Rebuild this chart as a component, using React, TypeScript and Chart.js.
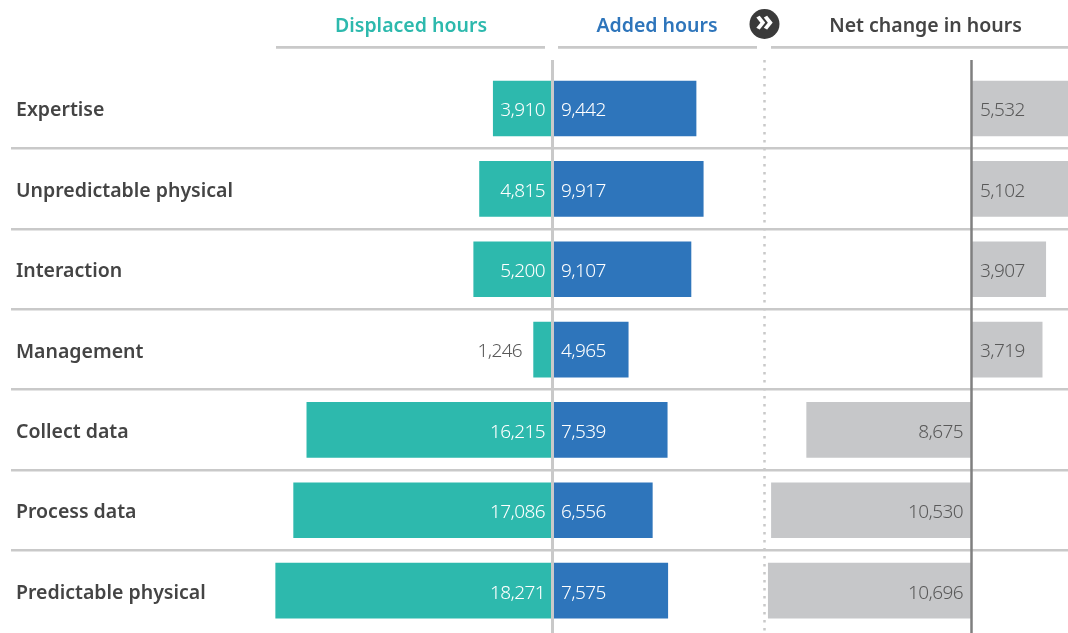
import React, { useEffect, useRef } from "react";
import { Chart, registerables } from "chart.js";

Chart.register(...registerables);

const categories = [
  "Expertise",
  "Unpredictable physical",
  "Interaction",
  "Management",
  "Collect data",
  "Process data",
  "Predictable physical",
];
const displacedHours = [3910, 4815, 5200, 1246, 16215, 17086, 18271];
const addedHours = [9442, 9917, 9107, 4965, 7539, 6556, 7575];
const netChange = [5532, 5102, 3907, 3719, -8675, -10530, -10696];
const headers = ["Displaced hours", "Added hours", "Net change in hours"];

const TEAL = "#2db9ad";
const BLUE = "#2e75bb";
const GREY = "#c6c7c9";
const RULE = "#c9c9c9";
const DARK = "#444444";
const FONT = '"Noto Sans", sans-serif';

const fmt = (v: number) => Math.abs(v).toLocaleString("en-US");

const overlay = {
  id: "overlay",
  afterDatasetsDraw(chart: any) {
    const { ctx, scales } = chart;
    const top = 60;
    const bottom = 633;
    ctx.save();
    const vline = (x: number, color: string, w: number, dash: number[] = []) => {
      ctx.beginPath();
      ctx.setLineDash(dash);
      ctx.strokeStyle = color;
      ctx.lineWidth = w;
      ctx.moveTo(x, top);
      ctx.lineTo(x, bottom);
      ctx.stroke();
      ctx.setLineDash([]);
    };
    vline(scales.xDisp.getPixelForValue(0), RULE, 3);
    vline(764.5, RULE, 2.5, [2.5, 5.5]);
    vline(scales.xNet.getPixelForValue(0), "#7f7f7f", 2.5);

    const hline = (a: number, b: number) => {
      ctx.beginPath();
      ctx.strokeStyle = RULE;
      ctx.lineWidth = 2.6;
      ctx.moveTo(a, 47.4);
      ctx.lineTo(b, 47.4);
      ctx.stroke();
    };
    hline(276, 545);
    hline(558, 757);
    hline(771, 1068);

    ctx.textBaseline = "middle";
    ctx.textAlign = "center";
    ctx.font = `600 19.5px ${FONT}`;
    ctx.fillStyle = TEAL;
    ctx.fillText(headers[0], 411, 26);
    ctx.fillStyle = BLUE;
    ctx.fillText(headers[1], 657, 26);
    ctx.fillStyle = DARK;
    ctx.fillText(headers[2], 925.5, 26);

    ctx.beginPath();
    ctx.fillStyle = "#3a3a3a";
    ctx.arc(764.5, 24, 15, 0, Math.PI * 2);
    ctx.fill();
    ctx.fillStyle = "#ffffff";
    ctx.font = `700 30px ${FONT}`;
    ctx.fillText("\u00bb", 764.5, 22);

    ctx.font = `300 19px ${FONT}`;
    ctx.letterSpacing = "-0.6px";
    const metaD = chart.getDatasetMeta(0).data;
    const metaA = chart.getDatasetMeta(1).data;
    const metaN = chart.getDatasetMeta(2).data;
    categories.forEach((_, i) => {
      const d = metaD[i];
      const y = d.y + 2.5;
      if (d.base - d.x > 50) {
        ctx.textAlign = "right";
        ctx.fillStyle = "#ffffff";
        ctx.fillText(fmt(displacedHours[i]), d.base - 7.5, y);
      } else {
        ctx.textAlign = "right";
        ctx.fillStyle = "#595959";
        ctx.fillText(fmt(displacedHours[i]), d.x - 11.5, y);
      }
      ctx.textAlign = "left";
      ctx.fillStyle = "#ffffff";
      ctx.fillText(fmt(addedHours[i]), metaA[i].base + 8, y);
      const n = metaN[i];
      ctx.fillStyle = "#595959";
      if (netChange[i] >= 0) {
        ctx.textAlign = "left";
        ctx.fillText(fmt(netChange[i]), n.base + 8.5, y);
      } else {
        ctx.textAlign = "right";
        ctx.fillText(fmt(netChange[i]), n.base - 8.5, y);
      }
    });
    ctx.restore();
  },
};

export default function App() {
  const ref = useRef<HTMLCanvasElement>(null);
  useEffect(() => {
    const kBars = 0.01515;
    const kNet = 0.019;
    const left = 11;
    const right = 1068;
    const range = (zero: number, k: number) => ({
      min: (left - zero) / k,
      max: (right - zero) / k,
    });
    const disp = { min: (552.5 - right) / kBars, max: (552.5 - left) / kBars };
    const chart = new Chart(ref.current as HTMLCanvasElement, {
      type: "bar",
      data: {
        labels: categories,
        datasets: [
          { label: headers[0], data: displacedHours, backgroundColor: TEAL, xAxisID: "xDisp" },
          { label: headers[1], data: addedHours, backgroundColor: BLUE, xAxisID: "xAdd" },
          { label: headers[2], data: netChange, backgroundColor: GREY, xAxisID: "xNet" },
        ],
      },
      options: {
        indexAxis: "y",
        responsive: false,
        animation: false,
        layout: { autoPadding: false, padding: { left, right: 0, top: 68.33, bottom: 2.17 } },
        plugins: { legend: { display: false }, tooltip: { enabled: false } },
        datasets: { bar: { grouped: false, barThickness: 55, borderWidth: 0 } },
        scales: {
          xDisp: { type: "linear", axis: "x", display: false, reverse: true, ...disp },
          xAdd: { type: "linear", axis: "x", display: false, ...range(553, kBars) },
          xNet: { type: "linear", axis: "x", display: false, ...range(971.5, kNet) },
          y: {
            type: "category",
            offset: true,
            afterFit: (s: any) => {
              s.width = 0;
              s.paddingTop = 0;
              s.paddingBottom = 0;
            },
            border: { display: false },
            grid: {
              offset: true,
              drawTicks: false,
              lineWidth: 2.6,
              color: (c: any) => (c.index === undefined || c.index === 0 ? "transparent" : RULE),
            },
            ticks: {
              mirror: true,
              padding: 5,
              labelOffset: 2.4,
              autoSkip: false,
              color: DARK,
              font: { family: '"Noto Sans", sans-serif', size: 19.5, weight: "600" },
            },
          },
        },
      } as any,
      plugins: [overlay],
    } as any);
    return () => chart.destroy();
  }, []);
  return (
    <div style={{ position: "absolute", left: 0, top: 0, width: 1068, height: 633, background: "#fff" }}>
      <canvas ref={ref} width={1068} height={633} style={{ display: "block" }} />
    </div>
  );
}
